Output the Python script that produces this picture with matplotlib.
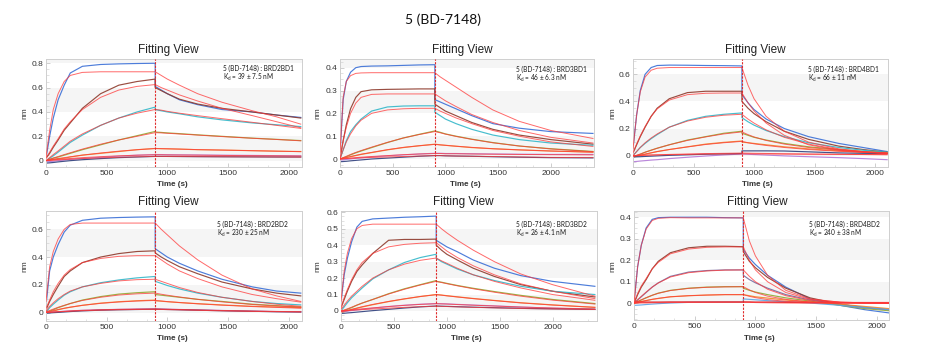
import matplotlib
matplotlib.use('Agg')
import matplotlib.pyplot as plt
from matplotlib.ticker import MultipleLocator, AutoMinorLocator, FuncFormatter

# ---------------- data ----------------
t_assoc = [0, 30, 60, 100, 150, 200, 300, 450, 600, 750, 900]
t_diss_2100 = [900, 950, 1000, 1100, 1250, 1450, 1700, 1900, 2100]
t_diss_2400 = [900, 950, 1000, 1100, 1250, 1450, 1700, 2000, 2400]

panel_targets = ["BRD2BD1", "BRD3BD1", "BRD4BD1", "BRD2BD2", "BRD3BD2", "BRD4BD2"]
panel_kd = ["39 ± 7.5 nM", "46 ± 6.3 nM", "66 ± 11 nM", "230 ± 25 nM", "26 ± 4.1 nM", "240 ± 38 nM"]
compound = "5 (BD-7148)"

# each curve: 11 association values then 9 dissociation values
p1_data = [
    [0.02, 0.20, 0.35, 0.50, 0.62, 0.72, 0.775, 0.79, 0.795, 0.798, 0.80, 0.61, 0.58, 0.55, 0.50, 0.46, 0.42, 0.40, 0.375, 0.355],
    [0.02, 0.06, 0.11, 0.17, 0.25, 0.31, 0.43, 0.55, 0.62, 0.65, 0.67, 0.60, 0.575, 0.55, 0.505, 0.465, 0.43, 0.40, 0.375, 0.35],
    [0.0, 0.02, 0.04, 0.07, 0.11, 0.15, 0.21, 0.29, 0.35, 0.40, 0.44, 0.42, 0.41, 0.40, 0.385, 0.36, 0.335, 0.31, 0.295, 0.28],
    [0.0, 0.01, 0.02, 0.03, 0.045, 0.06, 0.09, 0.13, 0.17, 0.205, 0.24, 0.235, 0.232, 0.228, 0.222, 0.212, 0.20, 0.185, 0.175, 0.165],
    [0.0, 0.005, 0.01, 0.015, 0.02, 0.03, 0.045, 0.06, 0.075, 0.09, 0.10, 0.10, 0.098, 0.097, 0.095, 0.09, 0.087, 0.082, 0.078, 0.075],
    [-0.01, -0.008, -0.005, 0.0, 0.005, 0.01, 0.018, 0.028, 0.037, 0.045, 0.05, 0.05, 0.05, 0.049, 0.048, 0.047, 0.045, 0.043, 0.041, 0.04],
    [-0.02, -0.018, -0.015, -0.01, -0.005, 0.0, 0.008, 0.017, 0.025, 0.03, 0.035, 0.035, 0.035, 0.035, 0.034, 0.033, 0.032, 0.031, 0.03, 0.03],
]
p1_fit = [
    [0.03, 0.25, 0.42, 0.55, 0.65, 0.70, 0.725, 0.73, 0.73, 0.73, 0.73, 0.73, 0.70, 0.67, 0.62, 0.55, 0.48, 0.41, 0.36, 0.30],
    [0.02, 0.07, 0.12, 0.18, 0.26, 0.32, 0.42, 0.52, 0.58, 0.61, 0.625, 0.625, 0.60, 0.58, 0.54, 0.49, 0.43, 0.37, 0.32, 0.27],
    [0.0, 0.025, 0.05, 0.08, 0.12, 0.16, 0.22, 0.29, 0.35, 0.39, 0.42, 0.42, 0.415, 0.405, 0.39, 0.37, 0.345, 0.315, 0.29, 0.265],
    [0.0, 0.012, 0.022, 0.034, 0.05, 0.065, 0.095, 0.135, 0.17, 0.20, 0.23, 0.23, 0.228, 0.225, 0.219, 0.21, 0.198, 0.184, 0.174, 0.163],
    [0.0, 0.006, 0.012, 0.018, 0.025, 0.032, 0.046, 0.063, 0.078, 0.09, 0.10, 0.10, 0.099, 0.098, 0.095, 0.091, 0.087, 0.082, 0.078, 0.074],
    [0.0, 0.003, 0.006, 0.01, 0.014, 0.018, 0.025, 0.033, 0.04, 0.045, 0.048, 0.048, 0.048, 0.047, 0.046, 0.045, 0.043, 0.041, 0.04, 0.038],
    [0.0, 0.002, 0.004, 0.006, 0.009, 0.012, 0.017, 0.023, 0.028, 0.032, 0.035, 0.035, 0.035, 0.034, 0.034, 0.033, 0.032, 0.031, 0.03, 0.029],
]

p2_data = [
    [0.02, 0.26, 0.34, 0.38, 0.40, 0.405, 0.407, 0.408, 0.41, 0.412, 0.413, 0.26, 0.25, 0.24, 0.22, 0.19, 0.155, 0.135, 0.12, 0.112],
    [0.0, 0.08, 0.15, 0.22, 0.27, 0.295, 0.303, 0.305, 0.306, 0.307, 0.307, 0.24, 0.225, 0.21, 0.19, 0.16, 0.13, 0.105, 0.085, 0.065],
    [0.0, 0.04, 0.08, 0.12, 0.15, 0.175, 0.21, 0.228, 0.232, 0.233, 0.233, 0.205, 0.19, 0.175, 0.155, 0.13, 0.105, 0.085, 0.07, 0.06],
    [0.0, 0.005, 0.01, 0.018, 0.027, 0.035, 0.05, 0.072, 0.092, 0.108, 0.123, 0.123, 0.117, 0.11, 0.10, 0.087, 0.072, 0.057, 0.045, 0.033],
    [0.0, 0.003, 0.006, 0.01, 0.015, 0.02, 0.028, 0.04, 0.05, 0.058, 0.065, 0.065, 0.062, 0.06, 0.056, 0.05, 0.045, 0.04, 0.035, 0.03],
    [-0.005, -0.004, -0.002, 0.0, 0.003, 0.005, 0.009, 0.014, 0.018, 0.022, 0.025, 0.025, 0.025, 0.024, 0.024, 0.023, 0.022, 0.021, 0.02, 0.02],
    [-0.012, -0.011, -0.01, -0.008, -0.006, -0.004, 0.0, 0.004, 0.008, 0.012, 0.015, 0.015, 0.015, 0.014, 0.013, 0.012, 0.01, 0.008, 0.006, 0.005],
]
p2_fit = [
    [0.03, 0.27, 0.34, 0.365, 0.375, 0.377, 0.378, 0.378, 0.378, 0.378, 0.378, 0.378, 0.36, 0.345, 0.315, 0.27, 0.215, 0.165, 0.125, 0.09],
    [0.0, 0.08, 0.14, 0.20, 0.245, 0.27, 0.283, 0.285, 0.285, 0.285, 0.285, 0.285, 0.27, 0.255, 0.23, 0.195, 0.16, 0.125, 0.095, 0.07],
    [0.0, 0.04, 0.075, 0.11, 0.145, 0.17, 0.20, 0.215, 0.22, 0.222, 0.222, 0.222, 0.21, 0.20, 0.18, 0.155, 0.125, 0.10, 0.075, 0.055],
    [0.0, 0.006, 0.012, 0.02, 0.029, 0.037, 0.052, 0.073, 0.092, 0.107, 0.12, 0.12, 0.115, 0.109, 0.099, 0.086, 0.071, 0.057, 0.044, 0.032],
    [0.0, 0.004, 0.007, 0.011, 0.016, 0.021, 0.029, 0.041, 0.051, 0.058, 0.064, 0.064, 0.062, 0.06, 0.056, 0.051, 0.045, 0.04, 0.035, 0.03],
    [0.0, 0.001, 0.002, 0.004, 0.006, 0.008, 0.011, 0.015, 0.019, 0.022, 0.024, 0.024, 0.024, 0.023, 0.023, 0.022, 0.021, 0.02, 0.019, 0.018],
    [0.0, 0.001, 0.002, 0.003, 0.004, 0.005, 0.007, 0.009, 0.011, 0.013, 0.015, 0.015, 0.015, 0.014, 0.013, 0.012, 0.011, 0.009, 0.007, 0.006],
]

p3_data = [
    [0.05, 0.30, 0.48, 0.60, 0.65, 0.665, 0.668, 0.667, 0.665, 0.664, 0.662, 0.45, 0.39, 0.34, 0.27, 0.20, 0.14, 0.09, 0.06, 0.03],
    [0.02, 0.08, 0.14, 0.21, 0.29, 0.35, 0.42, 0.465, 0.475, 0.475, 0.475, 0.40, 0.35, 0.31, 0.25, 0.18, 0.12, 0.07, 0.045, 0.025],
    [0.0, 0.03, 0.06, 0.09, 0.125, 0.155, 0.21, 0.26, 0.29, 0.305, 0.315, 0.28, 0.25, 0.225, 0.185, 0.14, 0.095, 0.06, 0.04, 0.025],
    [-0.01, 0.0, 0.01, 0.025, 0.04, 0.055, 0.08, 0.115, 0.14, 0.165, 0.18, 0.165, 0.15, 0.135, 0.115, 0.09, 0.065, 0.045, 0.03, 0.02],
    [-0.01, -0.005, 0.0, 0.01, 0.02, 0.03, 0.045, 0.065, 0.085, 0.098, 0.108, 0.10, 0.095, 0.09, 0.08, 0.065, 0.05, 0.035, 0.025, 0.02],
    [-0.045, -0.043, -0.04, -0.037, -0.033, -0.03, -0.022, -0.012, -0.003, 0.005, 0.012, 0.012, 0.01, 0.008, 0.004, -0.002, -0.008, -0.015, -0.022, -0.03],
    [-0.01, -0.009, -0.008, -0.006, -0.004, -0.002, 0.002, 0.006, 0.01, 0.013, 0.015, 0.035, 0.035, 0.035, 0.035, 0.034, 0.028, 0.02, 0.017, 0.015],
]
p3_fit = [
    [0.05, 0.30, 0.47, 0.58, 0.63, 0.645, 0.65, 0.65, 0.65, 0.65, 0.65, 0.65, 0.52, 0.42, 0.29, 0.18, 0.10, 0.05, 0.03, 0.02],
    [0.02, 0.085, 0.145, 0.215, 0.29, 0.345, 0.41, 0.45, 0.46, 0.462, 0.462, 0.462, 0.39, 0.33, 0.24, 0.15, 0.08, 0.04, 0.025, 0.015],
    [0.0, 0.03, 0.06, 0.095, 0.13, 0.16, 0.21, 0.255, 0.283, 0.298, 0.305, 0.305, 0.27, 0.24, 0.19, 0.135, 0.085, 0.045, 0.03, 0.015],
    [-0.005, 0.003, 0.012, 0.025, 0.04, 0.054, 0.08, 0.112, 0.138, 0.16, 0.175, 0.175, 0.155, 0.138, 0.112, 0.085, 0.06, 0.04, 0.028, 0.018],
    [-0.005, 0.0, 0.005, 0.012, 0.021, 0.03, 0.045, 0.064, 0.082, 0.095, 0.105, 0.105, 0.095, 0.087, 0.075, 0.06, 0.045, 0.032, 0.024, 0.017],
    [0.0, 0.001, 0.002, 0.003, 0.005, 0.006, 0.009, 0.012, 0.015, 0.017, 0.019, 0.019, 0.018, 0.017, 0.016, 0.014, 0.012, 0.01, 0.008, 0.007],
    [0.0, 0.001, 0.002, 0.003, 0.004, 0.005, 0.007, 0.009, 0.011, 0.012, 0.013, 0.013, 0.013, 0.012, 0.012, 0.011, 0.01, 0.009, 0.008, 0.007],
]

p4_data = [
    [0.05, 0.30, 0.40, 0.49, 0.58, 0.63, 0.665, 0.68, 0.685, 0.688, 0.69, 0.46, 0.43, 0.40, 0.355, 0.30, 0.24, 0.185, 0.155, 0.14],
    [0.02, 0.08, 0.13, 0.19, 0.26, 0.30, 0.36, 0.40, 0.425, 0.44, 0.445, 0.43, 0.40, 0.375, 0.33, 0.28, 0.22, 0.17, 0.14, 0.12],
    [0.0, 0.035, 0.06, 0.09, 0.125, 0.15, 0.185, 0.215, 0.235, 0.25, 0.26, 0.225, 0.21, 0.195, 0.17, 0.14, 0.11, 0.08, 0.065, 0.055],
    [0.0, 0.01, 0.02, 0.035, 0.05, 0.065, 0.09, 0.115, 0.133, 0.143, 0.15, 0.13, 0.125, 0.12, 0.11, 0.095, 0.08, 0.06, 0.05, 0.04],
    [0.0, 0.005, 0.01, 0.02, 0.03, 0.038, 0.052, 0.068, 0.078, 0.085, 0.09, 0.085, 0.082, 0.078, 0.072, 0.064, 0.055, 0.045, 0.04, 0.035],
    [0.0, 0.002, 0.004, 0.006, 0.009, 0.012, 0.016, 0.02, 0.023, 0.025, 0.026, 0.026, 0.025, 0.024, 0.022, 0.019, 0.015, 0.01, 0.007, 0.005],
    [-0.005, -0.003, -0.001, 0.001, 0.004, 0.007, 0.012, 0.017, 0.02, 0.022, 0.024, 0.024, 0.023, 0.022, 0.02, 0.017, 0.013, 0.009, 0.006, 0.004],
]
p4_fit = [
    [0.08, 0.33, 0.44, 0.53, 0.60, 0.635, 0.645, 0.645, 0.645, 0.645, 0.645, 0.645, 0.60, 0.56, 0.48, 0.38, 0.27, 0.17, 0.12, 0.08],
    [0.03, 0.09, 0.15, 0.21, 0.27, 0.31, 0.36, 0.39, 0.405, 0.41, 0.41, 0.41, 0.38, 0.35, 0.30, 0.245, 0.185, 0.13, 0.10, 0.075],
    [0.01, 0.045, 0.07, 0.10, 0.13, 0.155, 0.185, 0.21, 0.228, 0.237, 0.24, 0.24, 0.225, 0.21, 0.18, 0.145, 0.11, 0.08, 0.06, 0.045],
    [0.005, 0.015, 0.025, 0.038, 0.052, 0.065, 0.087, 0.11, 0.126, 0.135, 0.14, 0.14, 0.132, 0.125, 0.112, 0.095, 0.077, 0.058, 0.047, 0.038],
    [0.003, 0.008, 0.014, 0.022, 0.031, 0.039, 0.052, 0.066, 0.076, 0.083, 0.087, 0.087, 0.083, 0.079, 0.072, 0.063, 0.053, 0.043, 0.037, 0.031],
    [0.0, 0.002, 0.004, 0.006, 0.009, 0.012, 0.016, 0.02, 0.023, 0.025, 0.026, 0.026, 0.025, 0.024, 0.022, 0.019, 0.015, 0.011, 0.008, 0.006],
    [0.0, 0.001, 0.003, 0.005, 0.007, 0.009, 0.013, 0.017, 0.02, 0.022, 0.023, 0.023, 0.022, 0.021, 0.019, 0.016, 0.012, 0.008, 0.006, 0.004],
]

p5_data = [
    [0.05, 0.22, 0.32, 0.42, 0.51, 0.545, 0.56, 0.565, 0.57, 0.573, 0.577, 0.43, 0.41, 0.39, 0.36, 0.31, 0.26, 0.215, 0.18, 0.15],
    [0.02, 0.07, 0.12, 0.18, 0.24, 0.28, 0.35, 0.43, 0.435, 0.435, 0.437, 0.40, 0.37, 0.345, 0.31, 0.26, 0.21, 0.16, 0.12, 0.085],
    [0.0, 0.025, 0.05, 0.08, 0.11, 0.14, 0.195, 0.25, 0.295, 0.325, 0.345, 0.32, 0.30, 0.285, 0.255, 0.22, 0.185, 0.15, 0.12, 0.10],
    [-0.005, 0.003, 0.01, 0.02, 0.035, 0.048, 0.07, 0.105, 0.135, 0.16, 0.185, 0.18, 0.175, 0.168, 0.155, 0.138, 0.118, 0.095, 0.07, 0.045],
    [-0.01, -0.005, 0.0, 0.008, 0.016, 0.024, 0.038, 0.057, 0.073, 0.088, 0.10, 0.10, 0.097, 0.093, 0.086, 0.076, 0.064, 0.05, 0.037, 0.022],
    [-0.005, -0.003, -0.001, 0.002, 0.006, 0.01, 0.017, 0.027, 0.035, 0.041, 0.045, 0.045, 0.044, 0.043, 0.04, 0.036, 0.031, 0.024, 0.017, 0.01],
    [-0.015, -0.014, -0.012, -0.01, -0.007, -0.004, 0.002, 0.01, 0.018, 0.025, 0.03, 0.03, 0.029, 0.028, 0.026, 0.023, 0.02, 0.016, 0.013, 0.01],
]
p5_fit = [
    [0.06, 0.24, 0.35, 0.44, 0.50, 0.52, 0.528, 0.528, 0.528, 0.528, 0.528, 0.528, 0.50, 0.475, 0.43, 0.37, 0.30, 0.225, 0.16, 0.09],
    [0.02, 0.08, 0.13, 0.19, 0.25, 0.295, 0.35, 0.39, 0.405, 0.412, 0.415, 0.415, 0.39, 0.365, 0.325, 0.275, 0.22, 0.165, 0.12, 0.075],
    [0.01, 0.035, 0.06, 0.09, 0.12, 0.15, 0.20, 0.25, 0.285, 0.308, 0.322, 0.322, 0.305, 0.29, 0.26, 0.22, 0.18, 0.14, 0.10, 0.065],
    [0.0, 0.006, 0.013, 0.023, 0.036, 0.048, 0.07, 0.103, 0.132, 0.158, 0.18, 0.18, 0.173, 0.166, 0.153, 0.135, 0.114, 0.09, 0.066, 0.042],
    [-0.005, -0.001, 0.003, 0.01, 0.018, 0.026, 0.04, 0.058, 0.074, 0.088, 0.099, 0.099, 0.096, 0.092, 0.085, 0.075, 0.063, 0.049, 0.036, 0.022],
    [0.0, 0.002, 0.004, 0.007, 0.01, 0.013, 0.019, 0.027, 0.034, 0.04, 0.044, 0.044, 0.043, 0.042, 0.039, 0.035, 0.03, 0.024, 0.018, 0.012],
    [0.0, 0.001, 0.002, 0.004, 0.006, 0.008, 0.012, 0.017, 0.022, 0.026, 0.029, 0.029, 0.028, 0.027, 0.025, 0.022, 0.019, 0.015, 0.012, 0.009],
]

p6_data = [
    [0.0, 0.17, 0.27, 0.35, 0.39, 0.398, 0.40, 0.40, 0.40, 0.398, 0.397, 0.25, 0.21, 0.18, 0.13, 0.075, 0.02, -0.01, -0.03, -0.045],
    [0.0, 0.04, 0.075, 0.11, 0.16, 0.195, 0.235, 0.258, 0.265, 0.265, 0.263, 0.24, 0.195, 0.165, 0.12, 0.07, 0.025, -0.005, -0.02, -0.03],
    [0.0, 0.015, 0.03, 0.05, 0.075, 0.095, 0.125, 0.145, 0.152, 0.155, 0.155, 0.13, 0.11, 0.095, 0.07, 0.04, 0.015, -0.005, -0.02, -0.03],
    [0.0, 0.008, 0.015, 0.025, 0.037, 0.047, 0.06, 0.07, 0.075, 0.077, 0.077, 0.07, 0.06, 0.052, 0.04, 0.025, 0.01, -0.01, -0.025, -0.035],
    [0.0, 0.004, 0.008, 0.012, 0.018, 0.022, 0.03, 0.035, 0.038, 0.04, 0.04, 0.04, 0.035, 0.03, 0.024, 0.015, 0.005, -0.005, -0.015, -0.025],
    [-0.01, -0.009, -0.008, -0.006, -0.004, -0.002, 0.001, 0.004, 0.005, 0.005, 0.005, 0.02, 0.018, 0.016, 0.012, 0.007, 0.001, -0.01, -0.02, -0.03],
    [0.005, 0.005, 0.005, 0.005, 0.005, 0.005, 0.006, 0.006, 0.006, 0.006, 0.006, 0.006, 0.006, 0.005, 0.005, 0.004, 0.004, 0.003, 0.003, 0.002],
]
p6_fit = [
    [0.0, 0.17, 0.27, 0.345, 0.385, 0.395, 0.398, 0.397, 0.397, 0.397, 0.397, 0.397, 0.29, 0.22, 0.13, 0.06, 0.02, 0.005, 0.002, 0.0],
    [0.0, 0.045, 0.08, 0.115, 0.16, 0.19, 0.23, 0.252, 0.26, 0.262, 0.262, 0.262, 0.20, 0.155, 0.10, 0.05, 0.018, 0.005, 0.002, 0.0],
    [0.0, 0.016, 0.032, 0.052, 0.075, 0.094, 0.122, 0.142, 0.15, 0.154, 0.155, 0.155, 0.125, 0.10, 0.065, 0.035, 0.012, 0.004, 0.001, 0.0],
    [0.0, 0.008, 0.016, 0.026, 0.037, 0.046, 0.059, 0.069, 0.074, 0.076, 0.077, 0.077, 0.062, 0.05, 0.033, 0.018, 0.006, 0.002, 0.001, 0.0],
    [0.0, 0.004, 0.008, 0.013, 0.018, 0.023, 0.03, 0.035, 0.038, 0.04, 0.04, 0.04, 0.032, 0.026, 0.017, 0.009, 0.003, 0.001, 0.0, 0.0],
    [0.0, 0.0, 0.001, 0.001, 0.002, 0.002, 0.003, 0.004, 0.004, 0.005, 0.005, 0.005, 0.004, 0.003, 0.002, 0.001, 0.0, 0.0, 0.0, 0.0],
    [0.005, 0.005, 0.005, 0.005, 0.005, 0.005, 0.005, 0.005, 0.005, 0.005, 0.005, 0.005, 0.005, 0.005, 0.005, 0.005, 0.004, 0.004, 0.004, 0.004],
]

# ---------------- styling / layout ----------------
W, H = 944, 350
colors_std = ['#3a6fd6', '#8e3a2c', '#33b7c9', '#92a832', '#f0862a', '#b27ad6', '#2e3f7c']
colors_p6 = ['#3a6fd6', '#8e3a2c', '#7a6a9e', '#92a832', '#f0862a', '#5da4e4', '#c8202c']
FIT = '#ff3838'

panels = [
    dict(data=p1_data, fit=p1_fit, td=t_diss_2100, box=(46, 59, 302, 167), xlim=2110, ylim=(-0.052, 0.835), ystep=0.2,
         title=(168, 50), xl=(172, 185), yl=(25, 113), ann=(223, 68), cols=colors_std),
    dict(data=p2_data, fit=p2_fit, td=t_diss_2400, box=(340, 59, 594, 167), xlim=2410, ylim=(-0.035, 0.438), ystep=0.1,
         title=(462, 50), xl=(465, 185), yl=(318, 113), ann=(516, 69), cols=colors_std),
    dict(data=p3_data, fit=p3_fit, td=t_diss_2100, box=(633, 59, 888, 167), xlim=2107, ylim=(-0.084, 0.713), ystep=0.2,
         title=(755, 50), xl=(757, 185), yl=(613, 113), ann=(808, 69), cols=colors_std),
    dict(data=p4_data, fit=p4_fit, td=t_diss_2100, box=(46, 211, 302, 321), xlim=2110, ylim=(-0.061, 0.732), ystep=0.2,
         title=(168, 202), xl=(172, 338), yl=(25, 266), ann=(217, 224), cols=colors_std),
    dict(data=p5_data, fit=p5_fit, td=t_diss_2400, box=(341, 211, 597, 321), xlim=2420, ylim=(-0.061, 0.608), ystep=0.1,
         title=(463, 202), xl=(466, 338), yl=(318, 266), ann=(516, 224), cols=colors_std),
    dict(data=p6_data, fit=p6_fit, td=t_diss_2100, box=(634, 211, 889, 320), xlim=2100, ylim=(-0.078, 0.429), ystep=0.1,
         title=(757, 202), xl=(759, 338), yl=(613, 266), ann=(809, 224), cols=colors_p6),
]

fig = plt.figure(figsize=(W / 100, H / 100), dpi=100)
fig.patch.set_facecolor('white')

fig.text(443 / W, 1 - 20 / H, compound, ha='center', va='center', fontsize=10, family=['Lato', 'DejaVu Sans'], color='#111111')


def fmt(v, _):
    if abs(v) < 1e-9:
        return '0'
    return ('%.1f' % v)


for i, p in enumerate(panels):
    l, t, r, b = p['box']
    ax = fig.add_axes([l / W, 1 - b / H, (r - l) / W, (b - t) / H])
    ax.set_xlim(0, p['xlim'])
    ax.set_ylim(*p['ylim'])
    # alternating bands
    step = p['ystep']
    k = 0
    while k * step < p['ylim'][1]:
        if k % 2 == 0:
            ax.axhspan(k * step, (k + 1) * step, color='#f5f5f5', zorder=0, lw=0)
        k += 1

    times = t_assoc + p['td']
    for c, curve in enumerate(p['data']):
        ax.plot(times, curve, color=p['cols'][c], lw=0.85, alpha=0.9, zorder=2, solid_joinstyle='round')
    for curve in p['fit']:
        ax.plot(times, curve, color=FIT, lw=0.7, alpha=0.75, zorder=3, solid_joinstyle='round')
    ax.axvline(900, color='#e02a2a', lw=0.8, ls=(0, (2, 1.2)), zorder=4)

    ax.xaxis.set_major_locator(MultipleLocator(500))
    ax.xaxis.set_minor_locator(AutoMinorLocator(3))
    ax.yaxis.set_major_locator(MultipleLocator(step))
    ax.yaxis.set_minor_locator(AutoMinorLocator(4))
    ax.yaxis.set_major_formatter(FuncFormatter(fmt))
    ax.tick_params(axis='both', which='major', direction='in', length=3, width=0.5, color='#bbbbbb',
                   labelsize=6, labelcolor='#333333', pad=2)
    ax.tick_params(axis='both', which='minor', direction='in', length=1.8, width=0.4, color='#cccccc')
    for lab in ax.get_xticklabels() + ax.get_yticklabels():
        lab.set_family(['Liberation Sans', 'DejaVu Sans'])
    for s in ax.spines.values():
        s.set_color('#cfcfcf')
        s.set_linewidth(0.7)

    tx, ty = p['title']
    fig.text(tx / W, 1 - ty / H, 'Fitting View', ha='center', va='center', fontsize=8.5,
             family=['Liberation Sans', 'DejaVu Sans'], color='#222222')
    xx, xy = p['xl']
    fig.text(xx / W, 1 - xy / H, 'Time (s)', ha='center', va='center', fontsize=5.8,
             family=['Liberation Sans', 'DejaVu Sans'], color='#333333', fontweight='bold')
    yx, yy = p['yl']
    fig.text(yx / W, 1 - yy / H, 'nm', ha='center', va='center', fontsize=6, rotation=90,
             family=['Liberation Sans', 'DejaVu Sans'], color='#333333')
    ax_, ay_ = p['ann']
    fig.text(ax_ / W, 1 - ay_ / H, compound + ' : ' + panel_targets[i], ha='left', va='center', fontsize=4.7,
             family=['Lato', 'DejaVu Sans'], color='#1a1a1a')
    fig.text(ax_ / W, 1 - (ay_ + 9.5) / H, 'K$_{\\mathregular{d}}$ = ' + panel_kd[i], ha='left', va='center',
             fontsize=4.7, family=['Lato', 'DejaVu Sans'], color='#1a1a1a')

fig.savefig('out.png', dpi=100, facecolor='white')
